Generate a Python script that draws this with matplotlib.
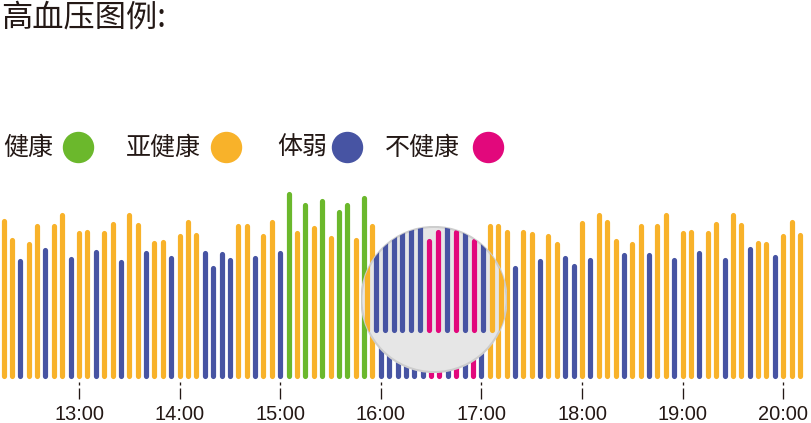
import numpy as np
import pandas as pd
import matplotlib
matplotlib.use("Agg")
import matplotlib.pyplot as plt
import matplotlib.patches as mpatches
from matplotlib.lines import Line2D

# blood pressure readings every 5 minutes, 12:15 - 20:10
times = pd.date_range("2020-01-01 12:15", "2020-01-01 20:10", freq="5min")
status = list("YYBYYBYYB"            # 12:15-12:55
              "YYBYYBYYBYYB"         # 13
              "YYYBBBBYYBYY"         # 14
              "BGYGYGYGGYGY"         # 15
              "BBBBBBPPBPBP"         # 16
              "BYYYBYYBYYBB"         # 17
              "YBYYYBYYBYYB"         # 18
              "YYBYYBYYBYYB"         # 19
              "YYY")                 # 20
values = [155, 136, 115, 132, 150, 126, 150, 161, 117,
          143, 144, 124, 143, 152, 114, 161, 151, 123, 133, 134, 118,
          140, 154, 141, 123, 108, 122, 116, 150, 150, 118, 140, 154,
          123, 182, 143, 171, 148, 175, 138, 164, 171, 136, 178, 150,
          118, 125, 121, 128, 124, 130, 84, 92, 126, 92, 120, 84,
          115, 150, 150, 144, 108, 144, 142, 115, 140, 132, 118, 110,
          153, 116, 161, 154, 135, 121, 132, 150, 121, 150, 161, 116,
          143, 144, 123, 143, 152, 116, 161, 151, 127, 133, 132, 119,
          140, 154, 141]
tick_hours = [13, 14, 15, 16, 17, 18, 19, 20]
tick_labels = ["13:00", "14:00", "15:00", "16:00", "17:00", "18:00", "19:00", "20:00"]

legend_labels = ["健康", "亚健康", "体弱", "不健康"]
legend_keys = ["G", "Y", "B", "P"]
palette = {"G": "#6bb82c", "Y": "#f8b22a", "B": "#4754a3", "P": "#e2087c"}
txt = "#231815"

hours = times.hour + times.minute / 60.0
bar_colors = [palette[s] for s in status]

W, H = 811, 423
fig = plt.figure(figsize=(W / 100, H / 100), dpi=100)
ax = fig.add_axes([0, 0, 1, 1])
ax.set_xlim(12.2147, 20.2763)
ax.set_ylim(-47.2, 375.8)
ax.axis("off")

bar_lw = 5.2 * 72 / 100
bars = ax.vlines(hours, 0, values, colors=bar_colors, linewidth=bar_lw)
bars.set_capstyle("round")

# "i" shaped tick marks
ax.vlines(tick_hours, -6.5, -9.2, colors=txt, linewidth=0.95)
ax.vlines(tick_hours, -12.5, -23.2, colors=txt, linewidth=0.95)
for h, lab in zip(tick_hours, tick_labels):
    ax.text(h, -38.9, lab, ha="center", va="center", fontsize=14.4,
            family="Liberation Sans", color=txt)

# magnifier
mx0, my0, msz = 361, 226.5, 146
ins = fig.add_axes([mx0 / W, (H - my0 - msz) / H, msz / W, msz / H])
ins.set_xlim(15.8626, 15.8626 + msz / 107.0)
ins.set_ylim(-39.75, 97.5)
ins.axis("off")
ins.patch.set_visible(False)
lens = mpatches.Circle((0.5, 0.5), 0.497, transform=ins.transAxes,
                       facecolor="#e6e6e6", edgecolor="#cdcdcd", linewidth=1.5)
ins.add_patch(lens)
zb = ins.vlines(hours, 0, values, colors=bar_colors, linewidth=bar_lw)
zb.set_capstyle("round")
zb.set_clip_path(lens)

# title and legend
fig.text(0.002, 1 - 2 / H, "高血压图例:", ha="left", va="top", fontsize=22.5,
         family=["Noto Sans CJK SC", "DejaVu Sans"], weight="light", color=txt)
text_x = [2.7, 126, 277.7, 385]
dot_x = [78, 226.3, 347, 487.8]
for lab, key, tx, dx in zip(legend_labels, legend_keys, text_x, dot_x):
    fig.text(tx / W, 1 - 148 / H, lab, ha="left", va="center", fontsize=18,
             family=["Noto Sans CJK SC", "DejaVu Sans"], weight="light", color=txt)
    fig.add_artist(Line2D([dx / W], [1 - 147 / H], marker="o", markersize=30 * 0.72,
                          color=palette[key], transform=fig.transFigure))

fig.savefig("out.png", dpi=100)
